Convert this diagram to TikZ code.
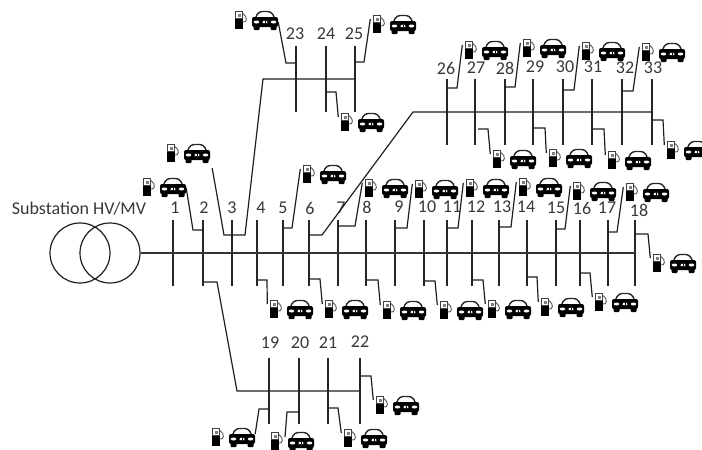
\documentclass[tikz,border=0pt]{standalone}
\usepackage{fontspec}
\setmainfont{Carlito}
\usepackage{xcolor}
\usepackage{tikz}
\usetikzlibrary{positioning}

% one pump and one car, origin on the pump
\newcommand{\evset}{\tikz[x=1pt,y=1pt]{
  \useasboundingbox (-6,-10) rectangle (38,10);
  % pump
  \fill[black] (-5,-8.5) rectangle (3,2);
  \draw[black!75, line width=1pt, fill=white] (-4.5,1.5) rectangle (2.5,8.5);
  \fill[black!50] (-2.5,3.5) rectangle (0.5,6.5);
  \draw[black!60, line width=1pt] (3,6.5) .. controls (8,3) and (7,-3) .. (3,-2);
  % car
  \draw[black!85, line width=1.4pt, rounded corners=3.5pt] (15.5,2) -- (18.5,8.5) -- (31.5,8.5) -- (34.5,2);
  \fill[black, rounded corners=2pt] (12,-7) rectangle (38,3);
  \fill[black, rounded corners=1pt] (13.5,-10) rectangle (19.5,-5);
  \fill[black, rounded corners=1pt] (30.5,-10) rectangle (36.5,-5);
  \fill[white] (16.5,-2) ellipse (2.8 and 1.5);
  \fill[white] (33.5,-2) ellipse (2.8 and 1.5);
  \fill[white] (22.5,-3.2) -- (27.5,-3.2) -- (27,-0.8) -- (23,-0.8) -- cycle;
  \fill[black] (24.5,-3.2) rectangle (25.5,-0.8);
}}

\begin{document}
\begin{tikzpicture}[
  x=1pt, y=-1pt,
  every node/.style={align=center},
  busbar/.style={fill=black!85, inner sep=0pt, minimum width=1.5pt, minimum height=66pt},
  lbl/.style={inner sep=0pt, text=black!78, font=\fontsize{18}{20}\selectfont},
  wire/.style={draw=black!88, line width=1.2pt},
  mainline/.style={draw=black!80, line width=1.6pt},
  xfmr/.style={draw=black!88, circle, line width=1.2pt, minimum size=60pt, inner sep=0pt},
  evstation/.style={inner sep=0pt},
  pumpend/.style={shift={(-1.5pt,5pt)}},
]
\useasboundingbox (0,0) rectangle (702,450);
\clip (0,0) rectangle (702,450);

% substation
\node[lbl] (sub) at (79,209) {Substation HV/MV};
\node[xfmr] (tp) at (80,253) {};
\node[xfmr] (ts) at (110,253) {};

% main feeder
\node[busbar] (b1) at (173,253) {};
\node[busbar] (b2) at (203,253) {};
\node[busbar] (b3) at (232,253) {};
\node[busbar] (b4) at (257,253) {};
\node[busbar] (b5) at (283,253) {};
\node[busbar] (b6) at (309,253) {};
\node[busbar] (b7) at (338,253) {};
\node[busbar] (b8) at (366,253) {};
\node[busbar] (b9) at (395,253) {};
\node[busbar] (b10) at (424,253) {};
\node[busbar] (b11) at (447,253) {};
\node[busbar] (b12) at (472,253) {};
\node[busbar] (b13) at (499,253) {};
\node[busbar] (b14) at (527,253) {};
\node[busbar] (b15) at (556,253) {};
\node[busbar] (b16) at (580,253) {};
\node[busbar] (b17) at (608,253) {};
\node[busbar] (b18) at (635,253) {};
\draw[mainline] (ts.east) -- (b18.center);

\node[lbl] (n1) at (175,208) {1};
\node[lbl] (n2) at (204,208) {2};
\node[lbl] (n3) at (232,208) {3};
\node[lbl] (n4) at (261,208) {4};
\node[lbl] (n5) at (283,208) {5};
\node[lbl] (n6) at (310,208) {6};
\node[lbl] (n7) at (341,208) {7};
\node[lbl] (n8) at (367,207) {8};
\node[lbl] (n9) at (399,207) {9};
\node[lbl] (n10) at (427,207) {10};
\node[lbl] (n11) at (452,207) {11};
\node[lbl] (n12) at (476,207) {12};
\node[lbl] (n13) at (502,207) {13};
\node[lbl] (n14) at (526,207) {14};
\node[lbl] (n15) at (556,208) {15};
\node[lbl] (n16) at (582,208) {16};
\node[lbl] (n17) at (607,208) {17};
\node[lbl] (n18) at (639,210) {18};

% lateral 19-22
\node[busbar] (b19) at (269,391) {};
\node[busbar] (b20) at (299,391) {};
\node[busbar] (b21) at (328,391) {};
\node[busbar] (b22) at (360,391) {};
\draw[wire] (b2 |- 0,282) -- (217,282) -- (237,391) -- (b22.center);

\node[lbl] (n19) at (270,343) {19};
\node[lbl] (n20) at (300,343) {20};
\node[lbl] (n21) at (328,343) {21};
\node[lbl] (n22) at (360,342) {22};

% lateral 23-25
\node[busbar] (b23) at (296,79) {};
\node[busbar] (b24) at (326,79) {};
\node[busbar] (b25) at (355,79) {};
\draw[wire] (b3 |- 0,235) -- (245,235) -- (263,79) -- (b25.center);

\node[lbl] (n23) at (295,34) {23};
\node[lbl] (n24) at (326,34) {24};
\node[lbl] (n25) at (354,34) {25};

% lateral 26-33
\node[busbar] (b26) at (447,112) {};
\node[busbar] (b27) at (475,112) {};
\node[busbar] (b28) at (505,112) {};
\node[busbar] (b29) at (533,112) {};
\node[busbar] (b30) at (563,112) {};
\node[busbar] (b31) at (592,112) {};
\node[busbar] (b32) at (622,112) {};
\node[busbar] (b33) at (652,112) {};
\draw[wire] (b6 |- 0,235) -- (322,235) -- (413,112) -- (b33.center);

\node[lbl] (n26) at (446,68) {26};
\node[lbl] (n27) at (476,68) {27};
\node[lbl] (n28) at (505,68) {28};
\node[lbl] (n29) at (535,67) {29};
\node[lbl] (n30) at (565,67) {30};
\node[lbl] (n31) at (593,67) {31};
\node[lbl] (n32) at (625,68) {32};
\node[lbl] (n33) at (653,68) {33};

% charging stations, main feeder
\node[evstation] (ev2) at (164,187) {\evset};
\node[evstation] (ev3) at (188,153) {\evset};
\node[evstation] (ev4) at (291,309) {\evset};
\node[evstation] (ev5) at (324,174) {\evset};
\node[evstation] (ev6) at (346,309) {\evset};
\node[evstation] (ev7) at (386,188) {\evset};
\node[evstation] (ev8) at (404,310) {\evset};
\node[evstation] (ev9) at (436,189) {\evset};
\node[evstation] (ev10) at (461,310) {\evset};
\node[evstation] (ev11) at (487,188) {\evset};
\node[evstation] (ev12) at (509,309) {\evset};
\node[evstation] (ev13) at (540,187) {\evset};
\node[evstation] (ev14) at (562,307) {\evset};
\node[evstation] (ev15) at (594,191) {\evset};
\node[evstation] (ev16) at (616,302) {\evset};
\node[evstation] (ev17) at (647,192) {\evset};
\node[evstation] (ev18) at (674,263) {\evset};

\draw[wire] (b2 |- 0,230) -- (193,230) -- ([yshift=-1pt]ev2.east);
\draw[wire] (b3 |- 0,235) -- (224,235) -- ([shift={(2pt,-5pt)}]ev3.south east);
\draw[wire] (b4 |- 0,280) -- (267,280) -- ([pumpend]ev4.west);
\draw[wire] (b5 |- 0,228) -- (292,228) -- ([pumpend]ev5.west);
\draw[wire] (b6 |- 0,279) -- (320,279) -- ([pumpend]ev6.west);
\draw[wire] (b7 |- 0,226) -- (355,226) -- ([pumpend]ev7.west);
\draw[wire] (b8 |- 0,280) -- (378,280) -- ([pumpend]ev8.west);
\draw[wire] (b9 |- 0,228) -- (407,228) -- ([pumpend]ev9.west);
\draw[wire] (b10 |- 0,281) -- (435,281) -- ([pumpend]ev10.west);
\draw[wire] (b11 |- 0,228) -- (458,228) -- ([pumpend]ev11.west);
\draw[wire] (b12 |- 0,280) -- (483,280) -- ([pumpend]ev12.west);
\draw[wire] (b13 |- 0,227) -- (511,227) -- ([pumpend]ev13.west);
\draw[wire] (b14 |- 0,277) -- (537,277) -- ([pumpend]ev14.west);
\draw[wire] (b15 |- 0,229) -- (565,229) -- ([pumpend]ev15.west);
\draw[wire] (b16 |- 0,273) -- (590,273) -- ([pumpend]ev16.west);
\draw[wire] (b17 |- 0,232) -- (617,232) -- ([pumpend]ev17.west);
\draw[wire] (b18 |- 0,234) -- (648,234) -- ([pumpend]ev18.west);

% charging stations, lateral 19-22
\node[evstation] (ev19) at (233,437) {\evset};
\node[evstation] (ev20) at (292,441) {\evset};
\node[evstation] (ev21) at (365,438) {\evset};
\node[evstation] (ev22) at (397,405) {\evset};

\draw[wire] (b19 |- 0,409) -- (259,409) -- ([yshift=3pt]ev19.east);
\draw[wire] (b20 |- 0,412) -- (287,412) -- ([shift={(-7pt,4pt)}]ev20.center);
\draw[wire] (b21 |- 0,408) -- (338,408) -- ([pumpend]ev21.west);
\draw[wire] (b22 |- 0,376) -- (371,376) -- ([pumpend]ev22.west);

% charging stations, lateral 23-25
\node[evstation] (ev23) at (256,20) {\evset};
\node[evstation] (ev24) at (362,122) {\evset};
\node[evstation] (ev25) at (394,24) {\evset};

\draw[wire] (b23 |- 0,63) -- (286,63) -- ([yshift=-2pt]ev23.east);
\draw[wire] (b24 |- 0,92) -- (336,92) -- ([pumpend]ev24.west);
\draw[wire] (b25 |- 0,62) -- (364,62) -- ([pumpend]ev25.west);

% charging stations, lateral 26-33
\node[evstation] (ev26) at (486,50) {\evset};
\node[evstation] (ev27) at (514,159) {\evset};
\node[evstation] (ev28) at (544,48) {\evset};
\node[evstation] (ev29) at (570,158) {\evset};
\node[evstation] (ev30) at (603,51) {\evset};
\node[evstation] (ev31) at (629,160) {\evset};
\node[evstation] (ev32) at (663,52) {\evset};
\node[evstation] (ev33) at (688,150) {\evset};

\draw[wire] (b26 |- 0,88) -- (457,88) -- ([pumpend]ev26.west);
\draw[wire] ([xshift=3pt]b27 |- 0,129) -- (488,129) -- ([pumpend]ev27.west);
\draw[wire] (b28 |- 0,87) -- (515,87) -- ([pumpend]ev28.west);
\draw[wire] (b29 |- 0,128) -- (545,128) -- ([pumpend]ev29.west);
\draw[wire] (b30 |- 0,90) -- (574,90) -- ([pumpend]ev30.west);
\draw[wire] (b31 |- 0,129) -- (604,129) -- ([pumpend]ev31.west);
\draw[wire] (b32 |- 0,91) -- (633,91) -- ([pumpend]ev32.west);
\draw[wire] (b33 |- 0,120) -- (663,120) -- ([pumpend]ev33.west);

\end{tikzpicture}
\end{document}
